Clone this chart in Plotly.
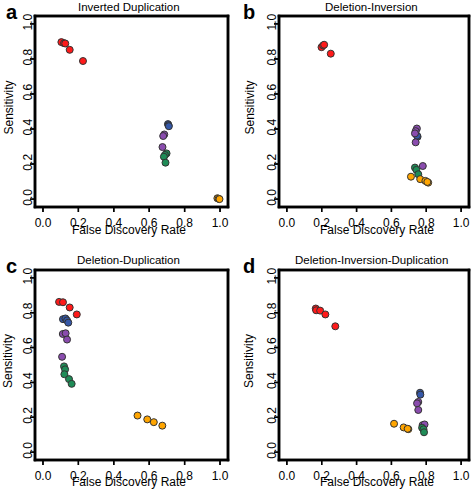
import plotly.graph_objects as go

W, H = 472, 489

titles = ["Inverted Duplication", "Deletion-Inversion", "Deletion-Duplication", "Deletion-Inversion-Duplication"]
letters = ["a", "b", "c", "d"]
tick_vals = [0.0, 0.2, 0.4, 0.6, 0.8, 1.0]
tick_text = ["0.0", "0.2", "0.4", "0.6", "0.8", "1.0"]
group_names = ["red", "blue", "purple", "green", "orange"]
group_colors = ["#ff1a1a", "#3558a8", "#8a4cae", "#1f8c57", "#ffa500"]

# Panel a: Inverted Duplication
a_red_x = [0.104, 0.119, 0.126, 0.151, 0.226]
a_red_y = [0.896, 0.890, 0.888, 0.852, 0.788]
a_blue_x = [0.706, 0.709, 0.711]
a_blue_y = [0.428, 0.422, 0.416]
a_purple_x = [0.685, 0.679, 0.675]
a_purple_y = [0.369, 0.360, 0.297]
a_green_x = [0.698, 0.689, 0.683, 0.692]
a_green_y = [0.261, 0.252, 0.242, 0.208]
a_orange_x = [0.985, 0.992, 0.997]
a_orange_y = [0.005, 0.002, 0.000]

# Panel b: Deletion-Inversion
b_red_x = [0.199, 0.208, 0.214, 0.252]
b_red_y = [0.867, 0.877, 0.881, 0.830]
b_blue_x = [0.750, 0.747]
b_blue_y = [0.356, 0.362]
b_purple_x = [0.746, 0.739, 0.735, 0.739, 0.780]
b_purple_y = [0.403, 0.388, 0.375, 0.324, 0.189]
b_green_x = [0.735, 0.743, 0.754]
b_green_y = [0.180, 0.167, 0.142]
b_orange_x = [0.712, 0.765, 0.795, 0.811, 0.806]
b_orange_y = [0.128, 0.114, 0.104, 0.094, 0.098]

# Panel c: Deletion-Duplication
c_red_x = [0.091, 0.113, 0.151, 0.191]
c_red_y = [0.862, 0.860, 0.830, 0.790]
c_blue_x = [0.113, 0.127, 0.136, 0.143]
c_blue_y = [0.763, 0.767, 0.756, 0.743]
c_purple_x = [0.112, 0.128, 0.136, 0.108]
c_purple_y = [0.678, 0.682, 0.646, 0.547]
c_green_x = [0.119, 0.125, 0.121, 0.147, 0.162]
c_green_y = [0.492, 0.475, 0.447, 0.419, 0.392]
c_orange_x = [0.534, 0.589, 0.626, 0.674]
c_orange_y = [0.210, 0.188, 0.172, 0.152]

# Panel d: Deletion-Inversion-Duplication
d_red_x = [0.166, 0.168, 0.191, 0.221, 0.278]
d_red_y = [0.824, 0.814, 0.812, 0.790, 0.722]
d_blue_x = [0.764, 0.766]
d_blue_y = [0.341, 0.330]
d_purple_x = [0.754, 0.747, 0.754, 0.779, 0.790]
d_purple_y = [0.288, 0.280, 0.242, 0.155, 0.159]
d_green_x = [0.776, 0.784, 0.787]
d_green_y = [0.140, 0.131, 0.114]
d_orange_x = [0.615, 0.670, 0.697, 0.693]
d_orange_y = [0.163, 0.142, 0.132, 0.134]

panels = [
    [(a_red_x, a_red_y), (a_blue_x, a_blue_y), (a_purple_x, a_purple_y), (a_green_x, a_green_y), (a_orange_x, a_orange_y)],
    [(b_red_x, b_red_y), (b_blue_x, b_blue_y), (b_purple_x, b_purple_y), (b_green_x, b_green_y), (b_orange_x, b_orange_y)],
    [(c_red_x, c_red_y), (c_blue_x, c_blue_y), (c_purple_x, c_purple_y), (c_green_x, c_green_y), (c_orange_x, c_orange_y)],
    [(d_red_x, d_red_y), (d_blue_x, d_blue_y), (d_purple_x, d_purple_y), (d_green_x, d_green_y), (d_orange_x, d_orange_y)],
]

# pixel boxes (left, right, top, bottom) of each plot frame
boxes = [(35, 228, 16, 207), (279, 469, 16, 207), (35, 228, 270, 460), (279, 469, 270, 460)]
LO, HI = -0.045, 1.045
TICK_PX = 5
FRAME_PX = 2.5
TICKW_PX = 1.4
PAD = 10

font = "Liberation Sans, Arial, Helvetica, sans-serif"
fig = go.Figure()
layout = dict(
    width=W, height=H, margin=dict(l=0, r=0, t=0, b=0),
    paper_bgcolor="white", plot_bgcolor="rgba(0,0,0,0)", showlegend=False,
    font=dict(family=font, size=12, color="black"),
)
annotations = []
shapes = []


def rect(x0, x1, y0, y1):
    return [x0, x1, x1, x0, x0, None], [y0, y0, y1, y1, y0, None]


for i, (groups, (l, r, t, b)) in enumerate(zip(panels, boxes)):
    n = "" if i == 0 else str(i + 1)
    for (gx, gy), col, name in zip(groups, group_colors, group_names):
        fig.add_trace(go.Scatter(
            x=gx, y=gy, mode="markers", name=name,
            xaxis="x" + n, yaxis="y" + n, hoverinfo="x+y",
            marker=dict(size=7, color=col, line=dict(color="#333333", width=1)),
        ))

    def ax():
        return dict(
            range=[LO, HI], tickvals=tick_vals, ticktext=tick_text,
            showgrid=False, zeroline=False, showline=False,
            ticks="outside", ticklen=TICK_PX, tickcolor="rgba(0,0,0,0)",
            tickfont=dict(size=12, family=font, color="black"),
            automargin=False, fixedrange=True,
        )
    xa = ax(); xa.update(domain=[l / W, r / W], anchor="y" + n)
    ya = ax(); ya.update(domain=[1 - b / H, 1 - t / H], anchor="x" + n, tickangle=-90, ticklabelstandoff=-8)
    layout["xaxis" + n] = xa
    layout["yaxis" + n] = ya

    # overlay frame subplot (box + tick marks, R style), drawn as filled thin rectangles
    kx = (r - l) / (HI - LO)
    ky = (b - t) / (HI - LO)
    pl, pr, pt, pb = PAD, min(PAD, W - r), min(PAD, t), min(PAD, H - b)
    m = str(i + 5)
    layout["xaxis" + m] = dict(domain=[(l - pl) / W, (r + pr) / W], range=[LO - pl / kx, HI + pr / kx],
                               visible=False, anchor="y" + m, fixedrange=True)
    layout["yaxis" + m] = dict(domain=[1 - (b + pb) / H, 1 - (t - pt) / H], range=[LO - pb / ky, HI + pt / ky],
                               visible=False, anchor="x" + m, fixedrange=True)
    hx, hy = FRAME_PX / 2 / kx, FRAME_PX / 2 / ky
    tw_x, tw_y = TICKW_PX / 2 / kx, TICKW_PX / 2 / ky
    rects = [
        (LO - hx, HI + hx, LO - hy, LO + hy),
        (LO - hx, HI + hx, HI - hy, HI + hy),
        (LO - hx, LO + hx, LO - hy, HI + hy),
        (HI - hx, HI + hx, LO - hy, HI + hy),
    ]
    for v in tick_vals:
        rects.append((v - tw_x, v + tw_x, LO - TICK_PX / ky, LO))
        rects.append((LO - TICK_PX / kx, LO, v - tw_y, v + tw_y))
    fx, fy = [], []
    for (x0, x1, y0, y1) in rects:
        rx, ry = rect(x0, x1, y0, y1)
        fx += rx
        fy += ry
        shapes.append(dict(type="rect", xref="x" + m, yref="y" + m, x0=x0, x1=x1, y0=y0, y1=y1,
                           fillcolor="black", line=dict(width=0), layer="above"))
    fig.add_trace(go.Scatter(
        x=fx, y=fy, mode="none", fill="toself", fillcolor="black",
        xaxis="x" + m, yaxis="y" + m, hoverinfo="skip",
    ))

    cx = (l + r) / 2 - 3
    ty_title = t - 9 if i < 2 else t - 10
    annotations.append(dict(text=titles[i], x=cx / W, y=1 - ty_title / H, xref="paper", yref="paper",
                            showarrow=False, font=dict(size=11.5, family=font), xanchor="center", yanchor="middle"))
    lx = l - 31 if i % 2 == 0 else l - 38
    annotations.append(dict(text="<b>" + letters[i] + "</b>", x=lx / W, y=1 - (t - 4) / H, xref="paper", yref="paper",
                            showarrow=False, font=dict(size=20, family=font), xanchor="left", yanchor="middle"))
    xt_y = b + 23 if i < 2 else b + 22
    annotations.append(dict(text="False Discovery Rate", x=(cx + (0 if i % 2 == 0 else 6)) / W, y=1 - xt_y / H,
                            xref="paper", yref="paper", showarrow=False,
                            font=dict(size=12, family=font), xanchor="center", yanchor="middle"))
    annotations.append(dict(text="Sensitivity", x=(l - 27 if i % 2 == 0 else l - 30) / W, y=1 - ((t + b) / 2 - 4) / H,
                            xref="paper", yref="paper",
                            showarrow=False, textangle=-90, font=dict(size=12, family=font),
                            xanchor="center", yanchor="middle"))
layout["annotations"] = annotations
layout["shapes"] = shapes
fig.update_layout(**layout)
fig.write_html("out.html", config={"displayModeBar": False},
               post_script="document.body.style.margin='0px';")
